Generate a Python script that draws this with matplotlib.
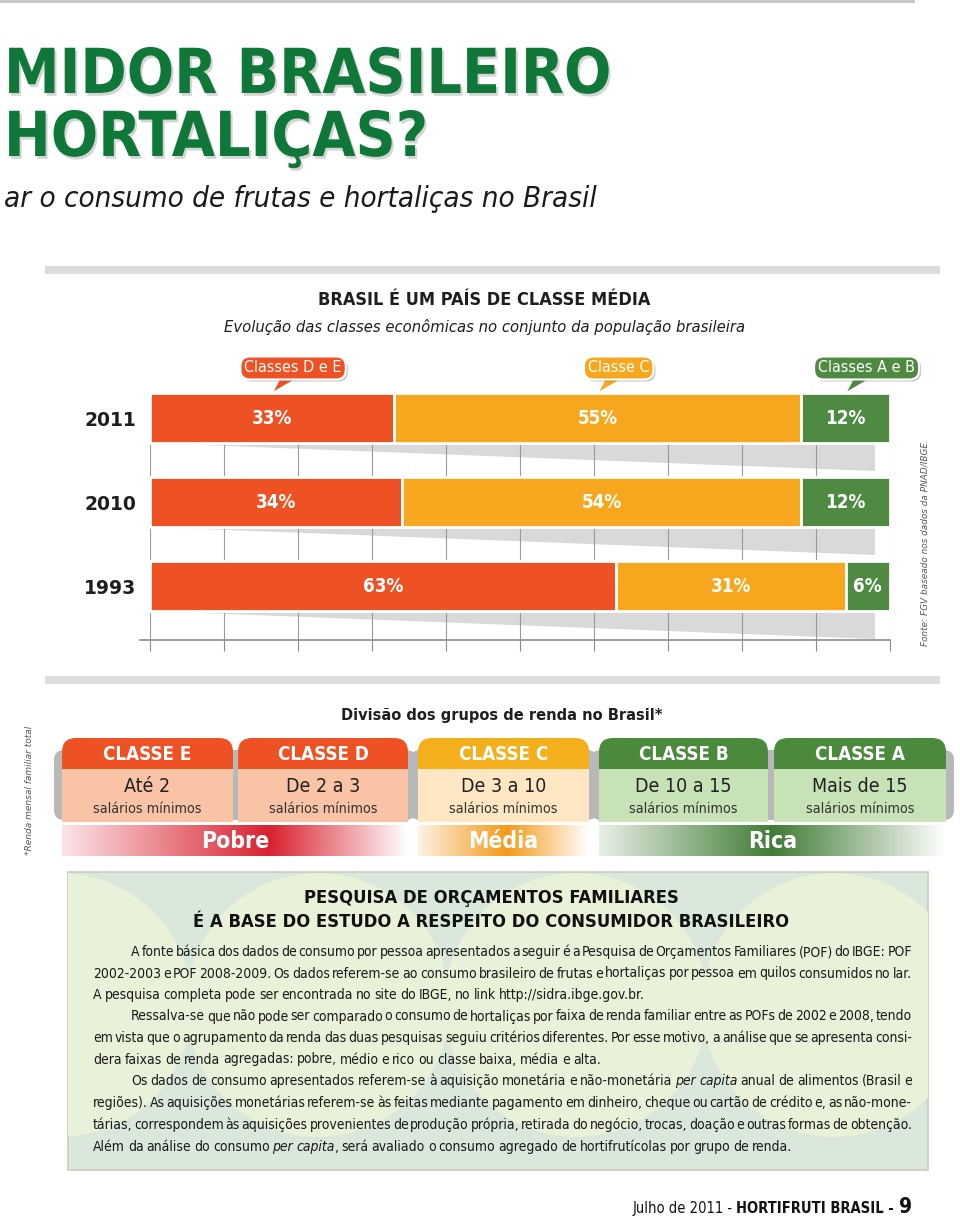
import numpy as np
import matplotlib
matplotlib.use('Agg')
import matplotlib.pyplot as plt
from matplotlib import font_manager as fm
from matplotlib.patches import Rectangle, FancyBboxPatch, Circle
import matplotlib.patheffects as pe

# --- chart data ---
years = ['2011', '2010', '1993']
callouts = ['Classes D e E', 'Classe C', 'Classes A e B']
share_de = [33, 34, 63]
share_c = [55, 54, 31]
share_ab = [12, 12, 6]

class_names = ['CLASSE E', 'CLASSE D', 'CLASSE C', 'CLASSE B', 'CLASSE A']
class_ranges = ['Até 2', 'De 2 a 3', 'De 3 a 10', 'De 10 a 15', 'Mais de 15']
groups = ['Pobre', 'Média', 'Rica']

box_title = ['PESQUISA DE ORÇAMENTOS FAMILIARES',
             'É A BASE DO ESTUDO A RESPEITO DO CONSUMIDOR BRASILEIRO']
para_lines = [
    'A fonte básica dos dados de consumo por pessoa apresentados a seguir é a Pesquisa de Orçamentos Familiares (POF) do IBGE: POF',
    '2002-2003 e POF 2008-2009. Os dados referem-se ao consumo brasileiro de frutas e hortaliças por pessoa em quilos consumidos no lar.',
    'A pesquisa completa pode ser encontrada no site do IBGE, no link http://sidra.ibge.gov.br.',
    'Ressalva-se que não pode ser comparado o consumo de hortaliças por faixa de renda familiar entre as POFs de 2002 e 2008, tendo',
    'em vista que o agrupamento da renda das duas pesquisas seguiu critérios diferentes. Por esse motivo, a análise que se apresenta consi-',
    'dera faixas de renda agregadas: pobre, médio e rico ou classe baixa, média e alta.',
    'Os dados de consumo apresentados referem-se à aquisição monetária e não-monetária *per capita* anual de alimentos (Brasil e',
    'regiões). As aquisições monetárias referem-se às feitas mediante pagamento em dinheiro, cheque ou cartão de crédito e, as não-mone-',
    'tárias, correspondem às aquisições provenientes de produção própria, retirada do negócio, trocas, doação e outras formas de obtenção.',
    'Além da análise do consumo *per capita*, será avaliado o consumo agregado de hortifrutícolas por grupo de renda.',
]
para_indent = [True, False, False, True, False, False, True, False, False, False]
para_justify = [True, True, False, True, True, False, True, True, True, False]

# --- colours ---
RED = '#EE5124'
ORANGE = '#F7A71E'
GREEN_BAR = '#4F8A42'
TITLE_GREEN = '#0F7838'
HEAD_COLS = [RED, RED, '#F3AF1C', '#4B893D', '#4B893D']
BODY_COLS = ['#F9C3A6', '#F9C3A6', '#FDE6C2', '#C7E2B6', '#C7E2B6']
BAND_COLS = ['#D9202E', '#F39A17', '#3F7B33']


def pick_font():
    fl = fm.fontManager.ttflist
    if any(f.name == 'Liberation Sans Narrow' for f in fl):
        return dict(family='Liberation Sans Narrow')
    if any(f.name == 'DejaVu Sans' and 'condensed' in str(f.stretch) for f in fl):
        return dict(family='DejaVu Sans', stretch='condensed')
    return dict(family='Roboto')


F = pick_font()

fig = plt.figure(figsize=(9.6, 12.2), dpi=100)
ax = fig.add_axes([0, 0, 1, 1])
ax.axis('off')
R = fig.canvas.get_renderer()


def width(t):
    return t.get_window_extent(R).width


def fit(t, w):
    t.set_fontsize(t.get_fontsize() * w / width(t))
    return t


def fit_h(t, h):
    t.set_fontsize(t.get_fontsize() * h / t.get_window_extent(R).height)
    return t


# page title
ax.add_patch(Rectangle((0, 0), 915, 3, color='#C8C8C8', lw=0))
shadow = [pe.SimplePatchShadow(offset=(1.5, -2), shadow_rgbFace='#555555', alpha=0.25), pe.Normal()]
t = ax.text(4, 93, 'MIDOR BRASILEIRO', fontsize=48, fontweight='bold', color=TITLE_GREEN,
            va='baseline', path_effects=shadow, **F)
fit(t, 607)
ax.text(4, 156, 'HORTALIÇAS?', fontsize=t.get_fontsize(), fontweight='bold', color=TITLE_GREEN,
        va='baseline', path_effects=shadow, **F)
t = ax.text(4, 207, 'ar o consumo de frutas e hortaliças no Brasil', fontsize=20, style='italic',
            color='#1A1A1A', va='baseline', **F)
fit(t, 591)

# chart header
ax.add_patch(Rectangle((45, 266), 895, 8, color='#DCDCDC', lw=0))
t = ax.text(484, 305, 'BRASIL É UM PAÍS DE CLASSE MÉDIA', fontsize=15, fontweight='bold',
            color='#1E1E1E', ha='center', va='baseline', **F)
fit(t, 333)
t = ax.text(485, 332, 'Evolução das classes econômicas no conjunto da população brasileira',
            fontsize=13, style='italic', color='#1E1E1E', ha='center', va='baseline', **F)
fit(t, 517)

# stacked bars
PX_X, PX_Y = 7.4, 84.0  # pixels per data unit in the bar axes
bx = fig.add_axes([150 / 960, 1 - 640 / 1220, 740 / 960, 247 / 1220])
bx.patch.set_alpha(0)
bx.set_xlim(0, 100)
bx.set_ylim(2.64, -0.3)
ypos = np.arange(len(years))
segs = [share_de, share_c, share_ab]
cols = [RED, ORANGE, GREEN_BAR]
lefts = np.zeros(len(years))
starts = []
for vals, col in zip(segs, cols):
    starts.append(lefts.copy())
    bars = bx.barh(ypos, vals, left=lefts, height=0.6, color=col, edgecolor='white',
                   linewidth=2, zorder=3)
    bx.bar_label(bars, labels=[f'{v}%' for v in vals], label_type='center', color='white',
                 fontsize=13.5, fontweight='bold', **F)
    lefts = lefts + np.array(vals)

for i in ypos:
    b = i + 0.3
    bx.fill([0, 98, 98], [b, b, b + 0.33], color='#D9D9D9', lw=0, zorder=1)
ticks = np.arange(0, 101, 10)
bx.vlines(ticks, -0.3, 2.64, colors='#9A9A9A', lw=0.8, zorder=2)
for s in ['top', 'left', 'right']:
    bx.spines[s].set_visible(False)
bx.spines['bottom'].set_color('#8C8C8C')
bx.spines['bottom'].set_linewidth(1.2)
bx.spines['bottom'].set_bounds(-1.3, 100)
bx.set_xticks(ticks)
bx.tick_params(axis='x', length=8, color='#8C8C8C', labelbottom=False)
bx.set_yticks(ypos, years)
bx.tick_params(axis='y', length=0, pad=10)
for lab in bx.get_yticklabels():
    lab.set_fontsize(13.5)
    lab.set_fontweight('bold')
    lab.set_color('#1E1E1E')
    lab.set_fontfamily(F['family'])

box_shadow = [pe.SimplePatchShadow(offset=(1.5, -1.5), shadow_rgbFace='#666666', alpha=0.35),
              pe.Normal()]
for k, (name, col) in enumerate(zip(callouts, cols)):
    c = starts[k][0] + segs[k][0] / 2
    top = -0.3
    base_y = top - 15 / PX_Y
    bx.fill([c, c + 8 / PX_X, c + 26 / PX_X], [top, base_y, base_y], color=col, ec='white',
            lw=1, clip_on=False, zorder=5)
    tc = bx.text(c + 21 / PX_X, top - 25 / PX_Y, name, ha='center', va='center', color='white',
                 fontsize=11.5, zorder=6, clip_on=False,
                 bbox=dict(boxstyle='round,pad=0.25,rounding_size=0.6', fc=col, ec='white', lw=1.5),
                 **F)
    tc.get_bbox_patch().set_path_effects(box_shadow)

t = ax.text(925, 543, 'Fonte: FGV baseado nos dados da PNAD/IBGE.', rotation=90, style='italic',
            fontsize=9, color='#555555', ha='center', va='center')
fit_h(t, 205)

# income groups
ax.add_patch(Rectangle((45, 676), 895, 8, color='#DCDCDC', lw=0))
t = ax.text(502, 720, 'Divisão dos grupos de renda no Brasil*', fontsize=13, fontweight='bold',
            color='#1E1E1E', ha='center', va='baseline', **F)
fit(t, 322)
t = ax.text(30, 790, '*Renda mensal familiar total', rotation=90, style='italic', fontsize=8,
            color='#555555', ha='center', va='center')
fit_h(t, 130)

col_x = [(62, 233), (238, 408), (418, 589), (599, 768), (774, 946)]
grp_x = [(62, 408), (418, 589), (599, 946)]
for g, (x0, x1) in enumerate(grp_x):
    ax.add_patch(FancyBboxPatch((x0 - 8, 750), x1 - x0 + 16, 70, boxstyle='round,pad=0,rounding_size=10',
                                fc='#B8B8B8', ec='none', zorder=1))
for k, (x0, x1) in enumerate(col_x):
    ax.add_patch(FancyBboxPatch((x0, 738), x1 - x0, 84, boxstyle='round,pad=0,rounding_size=14',
                                fc=HEAD_COLS[k], ec='none', zorder=2))
    ax.add_patch(Rectangle((x0, 769), x1 - x0, 53, fc=BODY_COLS[k], ec='none', zorder=3))
    xc = (x0 + x1) / 2
    ax.text(xc, 755, class_names[k], color='white', fontsize=13.5, fontweight='bold',
            ha='center', va='center', zorder=4, **F)
    ax.text(xc, 787, class_ranges[k], color='#222222', fontsize=14, ha='center', va='center',
            zorder=4, **F)
    ax.text(xc, 809, 'salários mínimos', color='#333333', fontsize=10.3, ha='center',
            va='center', zorder=4, **F)

peaks = [0.6, 0.52, 0.5]
for g, (x0, x1) in enumerate(grp_x):
    tt = np.linspace(0, 1, 300)
    alpha = np.interp(tt, [0, peaks[g], 1], [0.12, 1, 0.0])
    img = np.zeros((1, tt.size, 4))
    img[0, :, :3] = matplotlib.colors.to_rgb(BAND_COLS[g])
    img[0, :, 3] = alpha
    ax.imshow(img, extent=(x0, x1, 856, 825), aspect='auto', interpolation='bilinear', zorder=2)
    ax.text((x0 + x1) / 2, 841, groups[g], color='white', fontsize=16.5,
            fontweight='bold', ha='center', va='center', zorder=4, **F)

# text box
bx_rect = Rectangle((68, 872), 860, 298, fc='#D9E8DA', ec='#C6CFBE', lw=1.2, zorder=1)
ax.add_patch(bx_rect)
for cx in [60, 318, 576, 834, 1092]:
    circ = Circle((cx, 1005), 132, fc='#E9F1D8', ec='none', zorder=1.5)
    ax.add_patch(circ)
    circ.set_clip_path(bx_rect)

t = ax.text(491, 898, box_title[0], fontsize=14, fontweight='bold', color='#111111',
            ha='center', va='center', zorder=4, **F)
t2 = ax.text(491, 922, box_title[1], fontsize=14, fontweight='bold', color='#111111',
             ha='center', va='center', zorder=4, **F)
fit(t2, 595)
t.set_fontsize(t2.get_fontsize())

# paragraph font size from the widest full line
probe = ax.text(0, 0, para_lines[1], fontsize=10, **F)
fs = 10 * 819 / width(probe) * 1.05
probe.remove()
sp1 = ax.text(0, 0, 'x x', fontsize=fs, **F)
sp2 = ax.text(0, 0, 'xx', fontsize=fs, **F)
space = (width(sp1) - width(sp2)) * 0.75
sp1.remove()
sp2.remove()

LEFT, INDENT, RIGHT = 93, 131, 912
line_y = [952, 973.5, 995, 1016.5, 1038, 1059.5, 1081, 1103, 1125, 1147]
italic = False
for line, ind, just, y in zip(para_lines, para_indent, para_justify, line_y):
    words = []
    for w in line.split(' '):
        parts = w.split('*')
        segs_w = []
        for j, p in enumerate(parts):
            if j > 0:
                italic = not italic
            if p:
                txt = ax.text(0, y, p, fontsize=fs, style='italic' if italic else 'normal',
                              color='#1A1A1A', va='center', zorder=4, **F)
                segs_w.append(txt)
        words.append(segs_w)
    widths = [[width(s) for s in wd] for wd in words]
    total = sum(sum(w) for w in widths)
    x_start = INDENT if ind else LEFT
    gap = (RIGHT - x_start - total) / (len(words) - 1) if just else space
    x = x_start
    for wd, ws in zip(words, widths):
        for s, sw in zip(wd, ws):
            s.set_x(x)
            x += sw
        x += gap

# footer
t9 = ax.text(912, 1213, '9', fontsize=15, fontweight='bold', color='#111111', ha='right',
             va='baseline', **F)
tb = ax.text(912 - width(t9), 1213, 'HORTIFRUTI BRASIL - ', fontsize=10.5, fontweight='bold',
             color='#111111', ha='right', va='baseline', **F)
ax.text(912 - width(t9) - width(tb), 1213, 'Julho de 2011 - ', fontsize=10.5, color='#111111',
        ha='right', va='baseline', **F)

ax.set_xlim(0, 960)
ax.set_ylim(1220, 0)
fig.savefig('out.png', dpi=100)
